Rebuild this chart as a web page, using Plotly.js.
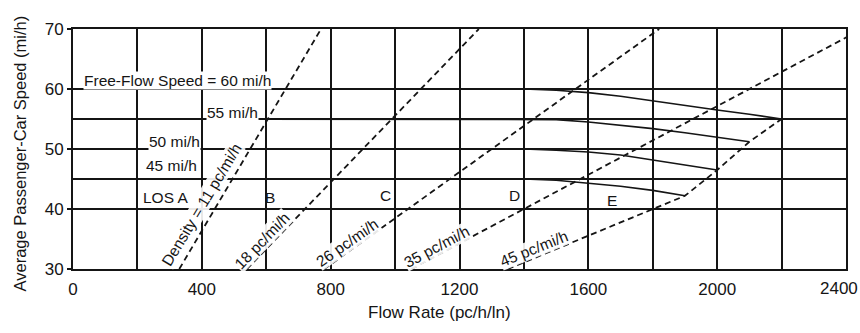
<!DOCTYPE html>
<html>
<head>
<meta charset="utf-8">
<script src="https://cdn.plot.ly/plotly-3.0.1.min.js"></script>
<style>
html,body{margin:0;padding:0;background:#fff;}
#chart{width:860px;height:333px;}
</style>
</head>
<body>
<div id="chart"></div>
<script>
// ---- data ----
const flowTicks = [0, 400, 800, 1200, 1600, 2000, 2400];
const speedTicks = [30, 40, 50, 60, 70];

// speed-flow curves (pc/h/ln vs mi/h) for each free-flow speed
const flow60 = [0, 1400, 1500, 1600, 1700, 1800, 1900, 2000, 2100, 2200];
const speed60 = [60, 60, 59.8, 59.4, 58.8, 58.0, 57.3, 56.5, 55.8, 55.0];
const flow55 = [0, 1400, 1500, 1600, 1700, 1800, 1900, 2000, 2100];
const speed55 = [55, 55, 54.9, 54.5, 54.0, 53.4, 52.7, 52.0, 51.2];
const flow50 = [0, 1400, 1500, 1600, 1700, 1800, 1900, 2000];
const speed50 = [50, 50, 49.8, 49.5, 49.0, 48.2, 47.4, 46.5];
const flow45 = [0, 1400, 1500, 1600, 1700, 1800, 1900];
const speed45 = [45, 45, 44.8, 44.3, 43.8, 43.1, 42.2];

// constant-density lines (pc/mi/ln); flow = density x speed
const densities = [11, 18, 26, 35];
const densitySpeeds = [30, 70];
// LOS E / capacity boundary (45 pc/mi/h line joining the curve ends)
const losEFlow = [1350, 1900, 2000, 2100, 2200];
const losESpeed = [30, 42.2, 46.5, 51.2, 55.0];

const curveLabels = ['Free-Flow Speed = 60 mi/h', '55 mi/h', '50 mi/h', '45 mi/h'];
const losLabels = ['LOS A', 'B', 'C', 'D', 'E'];
const densityLabels = ['Density = 11 pc/mi/h', '18 pc/mi/h', '26 pc/mi/h', '35 pc/mi/h', '45 pc/mi/h'];

// ---- build ----
const FONT = 'Liberation Sans, Arial, sans-serif';
const INK = '#151515';
const traces = [];
const dash = '6px,4px';
densities.forEach(d => {
  traces.push({
    x: densitySpeeds.map(s => d * s), y: densitySpeeds,
    mode: 'lines', line: {color: INK, width: 1.8, dash: dash},
    hoverinfo: 'skip', showlegend: false
  });
});
traces.push({x: losEFlow, y: losESpeed, mode: 'lines',
  line: {color: INK, width: 1.8, dash: dash}, hoverinfo: 'skip', showlegend: false});
[[flow60, speed60], [flow55, speed55], [flow50, speed50], [flow45, speed45]].forEach(c => {
  traces.push({x: c[0], y: c[1], mode: 'lines',
    line: {color: INK, width: 1.6}, hoverinfo: 'skip', showlegend: false});
});

const ann = [];
function label(text, x, y, opts) {
  ann.push(Object.assign({
    text: text, x: x, y: y, xref: 'x', yref: 'y', showarrow: false,
    font: {family: FONT, size: 15.5, color: INK},
    bgcolor: '#fff', borderpad: 0, xanchor: 'center', yanchor: 'middle'
  }, opts || {}));
}
// curve labels
label(curveLabels[0], 31, 61.5, {xanchor: 'left'});
label(curveLabels[1], 495, 56.1);
label(curveLabels[2], 315, 51.3);
label(curveLabels[3], 307, 47.3);
// LOS labels
label(losLabels[0], 287, 42.0);
label(losLabels[1], 612, 42.0, {bgcolor: 'rgba(0,0,0,0)'});
label(losLabels[2], 969, 42.2, {bgcolor: 'rgba(0,0,0,0)'});
label(losLabels[3], 1372, 42.2, {bgcolor: 'rgba(0,0,0,0)'});
label(losLabels[4], 1672, 41.5, {bgcolor: 'rgba(0,0,0,0)'});
// density labels along the dashed lines
label(densityLabels[0], 400, 40.7, {textangle: -59, bgcolor: 'rgba(255,255,255,0.9)'});
label(densityLabels[1], 587, 34.8, {textangle: -46, bgcolor: 'rgba(255,255,255,0.9)'});
label(densityLabels[2], 851, 34.5, {textangle: -35, bgcolor: 'rgba(255,255,255,0.9)'});
label(densityLabels[3], 1130, 33.7, {textangle: -28, bgcolor: 'rgba(255,255,255,0.9)'});
label(densityLabels[4], 1431, 33.5, {textangle: -22, bgcolor: 'rgba(255,255,255,0.9)'});
// last x tick label sits against the right edge of the figure (as in the reference)
const lastTick = flowTicks[flowTicks.length - 1];
ann.push({text: String(lastTick), xref: 'paper', yref: 'paper', x: 1.0165, y: -0.083,
  showarrow: false, xanchor: 'right', yanchor: 'middle', borderpad: 0,
  font: {family: FONT, size: 17, color: INK}});
// axis titles
ann.push({text: 'Flow Rate (pc/h/ln)', xref: 'paper', yref: 'paper', x: 0.474, y: -0.183,
  showarrow: false, xanchor: 'center', yanchor: 'middle', font: {family: FONT, size: 17, color: INK}});
ann.push({text: 'Average Passenger-Car Speed (mi/h)', xref: 'paper', yref: 'paper', x: -0.069, y: 0.48,
  showarrow: false, textangle: -90, xanchor: 'center', yanchor: 'middle', font: {family: FONT, size: 16.5, color: INK}});

const layout = {
  width: 860, height: 333,
  margin: {l: 73, r: 14, t: 29, b: 64},
  paper_bgcolor: '#fff', plot_bgcolor: '#fff',
  showlegend: false,
  font: {family: FONT, color: INK},
  xaxis: {
    range: [0, 2400], tickmode: 'array', tickvals: flowTicks.slice(0, -1),
    tickfont: {family: FONT, size: 17, color: INK},
    showgrid: true, gridcolor: INK, gridwidth: 2,
    minor: {dtick: 200, showgrid: true, gridcolor: INK, gridwidth: 2, ticks: ''},
    showline: true, linecolor: INK, linewidth: 2, mirror: true,
    ticks: '', ticklabelstandoff: 4,
    zeroline: false, fixedrange: true
  },
  yaxis: {
    range: [30, 70], tickmode: 'array', tickvals: speedTicks,
    tickfont: {family: FONT, size: 17, color: INK},
    showgrid: true, gridcolor: INK, gridwidth: 2,
    minor: {tickmode: 'array', tickvals: [45, 55], showgrid: true, gridcolor: INK, gridwidth: 2, ticks: ''},
    showline: true, linecolor: INK, linewidth: 2, mirror: true,
    ticks: 'outside', ticklen: 4, tickwidth: 1.5, tickcolor: INK,
    zeroline: false, fixedrange: true
  },
  annotations: ann
};

Plotly.newPlot('chart', traces, layout, {displayModeBar: false, staticPlot: true});
</script>
</body>
</html>
